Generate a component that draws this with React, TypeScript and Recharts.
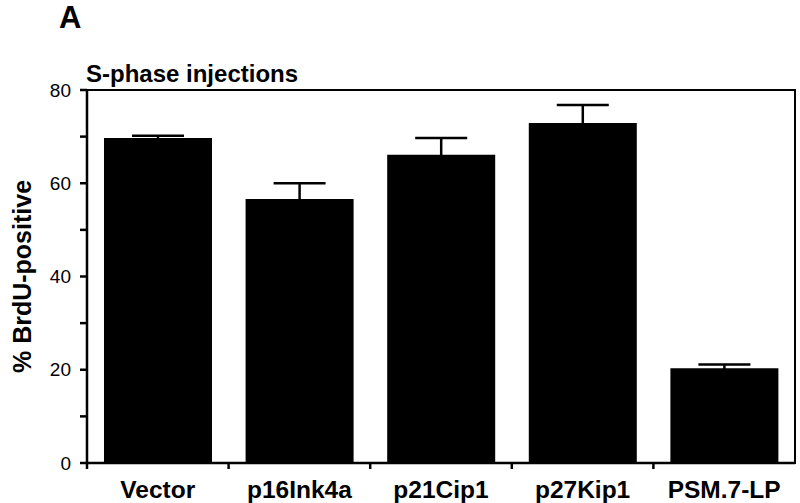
import React from "react";
import {
  BarChart,
  Bar,
  XAxis,
  YAxis,
  ErrorBar,
  Label,
} from "recharts";

const categories = ["Vector", "p16Ink4a", "p21Cip1", "p27Kip1", "PSM.7-LP"];
const brduPositive = [69.7, 56.6, 66.1, 72.9, 20.3];
const errorBars = [0.5, 3.4, 3.6, 3.9, 0.8];
const yTicks = [0, 10, 20, 30, 40, 50, 60, 70, 80];

const FONT = "'Liberation Sans', Arial, Helvetica, sans-serif";

const data = categories.map((name, i) => ({
  name,
  value: brduPositive[i],
  err: errorBars[i],
}));

// category label plus a tick at the left edge of each band
const CategoryTick = (props: any) => {
  const { x, y, payload } = props;
  const half = payload && payload.offset ? payload.offset : 70.8;
  return (
    <g>
      <line x1={x - half} y1={463} x2={x - half} y2={469} stroke="#000" strokeWidth={2.5} />
      <text
        x={x}
        y={y}
        dy="0.71em"
        textAnchor="middle"
        fill="#000"
        style={{ fontFamily: FONT, fontWeight: 700, fontSize: 24.5 }}
      >
        {payload.value}
      </text>
    </g>
  );
};

const App = () => {
  return (
    <div style={{ position: "absolute", left: 0, top: 0, width: 800, height: 503, background: "#fff" }}>
      <div
        style={{
          position: "absolute",
          left: 59,
          top: 2,
          fontFamily: FONT,
          fontWeight: 700,
          fontSize: 31,
          lineHeight: "31px",
          color: "#000",
        }}
      >
        A
      </div>
      <div
        style={{
          position: "absolute",
          left: 86,
          top: 62,
          fontFamily: FONT,
          fontWeight: 700,
          fontSize: 24,
          lineHeight: "24px",
          color: "#000",
          whiteSpace: "nowrap",
        }}
      >
        S-phase injections
      </div>
      <BarChart
        width={800}
        height={503}
        data={data}
        margin={{ top: 90, right: 5, left: 0, bottom: 0 }}
        barCategoryGap="12%"
      >
        <XAxis
          dataKey="name"
          height={40}
          tickLine={false}
          tickSize={6}
          tickMargin={12}
          axisLine={{ stroke: "#000", strokeWidth: 2.5 }}
          tick={<CategoryTick />}
          interval={0}
        />
        <YAxis
          domain={[0, 80]}
          ticks={yTicks}
          width={87}
          tickSize={7}
          tickMargin={9}
          interval={0}
          tickFormatter={(v: number) => (v % 20 === 0 ? String(v) : "")}
          tick={{ fill: "#000", fontFamily: FONT, fontSize: 19 }}
          tickLine={{ stroke: "#000", strokeWidth: 2.5 }}
          axisLine={{ stroke: "#000", strokeWidth: 2.5 }}
        >
          <Label
            value="% BrdU-positive"
            angle={-90}
            position="insideLeft"
            offset={6}
            dx={16}
            style={{ textAnchor: "middle", fontFamily: FONT, fontWeight: 700, fontSize: 25, fill: "#000" }}
          />
        </YAxis>
        <Bar dataKey="value" fill="#000" isAnimationActive={false}>
          <ErrorBar
            dataKey="err"
            direction="y"
            width={26}
            stroke="#000"
            strokeWidth={2.5}
            isAnimationActive={false}
          />
        </Bar>
      </BarChart>
      {/* top and right sides of the plot frame */}
      <div
        style={{
          position: "absolute",
          left: 86,
          top: 89,
          width: 710,
          height: 375,
          boxSizing: "border-box",
          borderTop: "2.5px solid #000",
          borderRight: "2.5px solid #000",
          pointerEvents: "none",
        }}
      />
    </div>
  );
};

export default App;
